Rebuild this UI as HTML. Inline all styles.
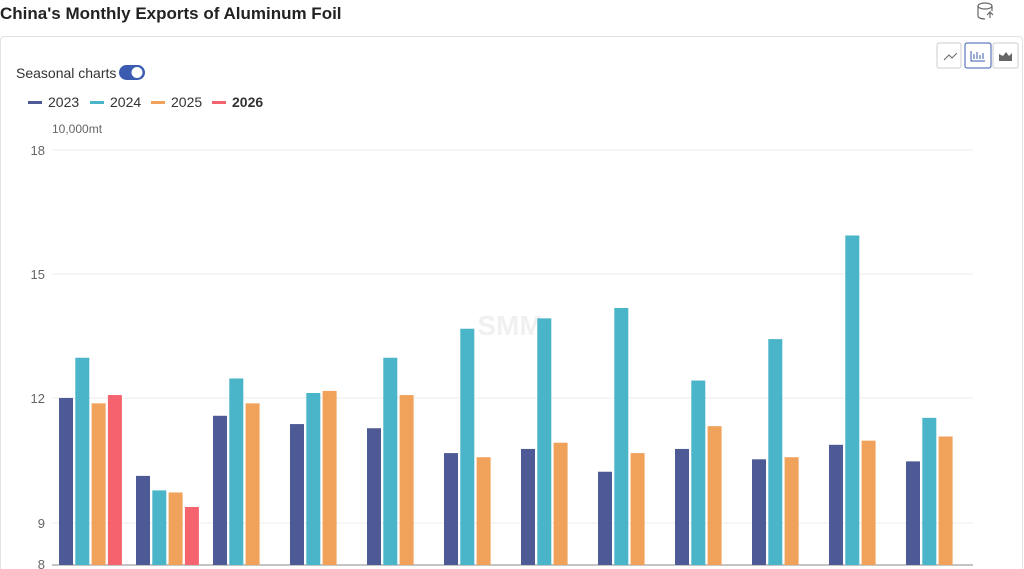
<!DOCTYPE html>
<html><head><meta charset="utf-8"><style>
html,body{margin:0;width:1024px;height:569px;overflow:hidden}
body{background:#fff;font-family:"Liberation Sans",sans-serif;position:relative}
.t{position:absolute;left:0;top:4px;font-size:17px;font-weight:bold;color:#222}
.card{position:absolute;left:0;top:36px;width:1021px;height:532px;border:1px solid #e3e3e3;border-bottom:none;border-radius:4px 4px 0 0}
</style></head><body>
<div class="t">China's Monthly Exports of Aluminum Foil</div>
<div class="card"></div>
<svg width="1024" height="569" style="position:absolute;left:0;top:0;display:block" font-family="Liberation Sans, sans-serif">
<g fill="none" stroke="#666" stroke-width="1.2"><ellipse cx="985" cy="6" rx="7" ry="3"/><path d="M978 6v10c0 2 4 3 7 3M992 6v5"/><path d="M990 18v-6l-3 3M990 12l3 3"/></g>
<rect x="937" y="43" width="24" height="25" fill="#fff" stroke="#ccc" rx="2"/>
<rect x="965" y="43" width="26" height="25" fill="#fff" stroke="#3b5bb0" rx="2"/>
<rect x="993" y="43" width="25" height="25" fill="#fff" stroke="#ccc" rx="2"/>
<path d="M944 60l5-5 3 3 5-5" stroke="#666" fill="none"/>
<path d="M971 51v10h14M974 59v-5M977 59v-7M980 59v-4M983 59v-6" stroke="#3b5bb0" fill="none"/>
<path d="M999 61h13v-8l-3 3-3-4-3 4-4-2z" fill="#666"/>
<text x="16" y="78" font-size="14" fill="#333">Seasonal charts</text>
<rect x="119" y="65" width="26" height="15" rx="7.5" fill="#3b5bb0"/><circle cx="137" cy="72.5" r="5.5" fill="#fff"/>
<g font-size="14" fill="#333">
<rect x="28" y="101" width="14" height="3" fill="#4e5a96"/><text x="48" y="107">2023</text>
<rect x="90" y="101" width="14" height="3" fill="#4ab5c8"/><text x="110" y="107">2024</text>
<rect x="151" y="101" width="14" height="3" fill="#f0a25b"/><text x="171" y="107">2025</text>
<rect x="212" y="101" width="14" height="3" fill="#f5636f"/><text x="232" y="107" font-weight="bold">2026</text>
</g>
<text x="52" y="133" font-size="12" fill="#666">10,000mt</text>
<g stroke="#eee"><line x1="52" y1="150" x2="973" y2="150"/><line x1="52" y1="274" x2="973" y2="274"/><line x1="52" y1="398" x2="973" y2="398"/><line x1="52" y1="523" x2="973" y2="523"/></g>
<line x1="52" y1="565" x2="973" y2="565" stroke="#888"/>
<g font-size="13" fill="#666" text-anchor="end"><text x="45" y="155">18</text><text x="45" y="279">15</text><text x="45" y="403">12</text><text x="45" y="528">9</text><text x="45" y="569">8</text></g>
<text x="510" y="335" font-size="28" font-weight="bold" fill="#f0f0f0" text-anchor="middle">SMM</text>
<g id="b"></g>
</svg>
<script>
var d=[[12.03,13.0,11.9,12.1],[10.15,9.8,9.75,9.4],[11.6,12.5,11.9],[11.4,12.15,12.2],[11.3,13.0,12.1],[10.7,13.7,10.6],[10.8,13.95,10.95],[10.25,14.2,10.7],[10.8,12.45,11.35],[10.55,13.45,10.6],[10.9,15.95,11.0],[10.5,11.55,11.1]];
var c=['#4e5a96','#4ab5c8','#f0a25b','#f5636f'],s='';
d.forEach(function(g,i){g.forEach(function(v,j){var x=59+i*77+j*16.3,y=565-(v-8)*41.45;s+='<rect x="'+x+'" y="'+y+'" width="14" height="'+(565-y)+'" fill="'+c[j]+'"/>';});});
document.getElementById('b').innerHTML=s;
</script>
</body></html>
